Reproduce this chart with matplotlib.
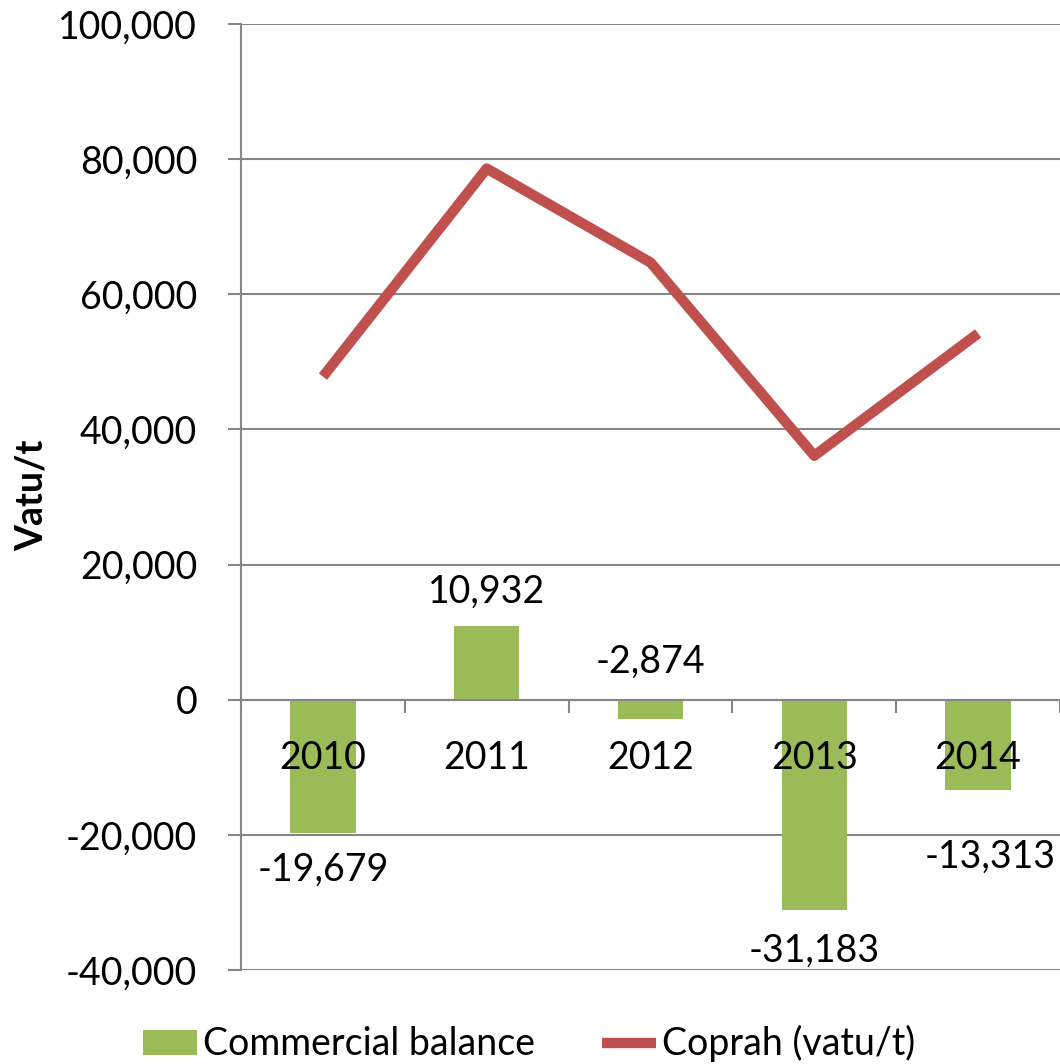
import numpy as np
import matplotlib.pyplot as plt
from matplotlib.ticker import FuncFormatter

plt.rcParams['font.family'] = ['Lato', 'DejaVu Sans']

# ---------------- DATA ----------------
years = ["2010", "2011", "2012", "2013", "2014"]
balance = [-19679, 10932, -2874, -31183, -13313]
coprah = [47800, 78600, 64700, 36100, 54200]

# label placement (px from bar end / zero line, + is up / right)
label_dy = [-37, 34, 38, -40, -67]
label_dx = [0, 0, 0, 0, 12]

GREEN = "#9BBB59"
RED = "#C0504D"
GREY = "#868686"
FS = 27

fig = plt.figure(figsize=(10.6, 10.64), dpi=100)
ax = fig.add_axes([0.2274, 0.0884, 0.7726, 0.8891])

x = np.arange(len(years))
bars = ax.bar(x, balance, width=0.4, color=GREEN, zorder=2,
              label="Commercial balance")
line, = ax.plot(x, coprah, color=RED, lw=7.5, solid_capstyle="butt",
                zorder=3, label="Coprah (vatu/t)")

for xi, v, dx, dy in zip(x, balance, label_dx, label_dy):
    y = v if dy < 0 else max(v, 0)
    ax.annotate(f"{v:,}", (xi, y), xytext=(dx * 0.72, dy * 0.72),
                textcoords="offset points", ha="center", va="center",
                fontsize=FS, zorder=6, annotation_clip=False)

ax.set_xlim(-0.5, 4.5)
ax.set_ylim(-40000, 100000)
ax.set_yticks(np.arange(-40000, 100001, 20000))
ax.yaxis.set_major_formatter(FuncFormatter(lambda v, p: f"{int(v):,}"))
ax.grid(axis="y", color=GREY, lw=1.5)
ax.set_axisbelow(True)
ax.xaxis.set_zorder(5)

for s in ["top", "right"]:
    ax.spines[s].set_visible(False)
ax.spines["left"].set_color(GREY)
ax.spines["left"].set_linewidth(1.5)
ax.spines["bottom"].set_position(("data", 0))
ax.spines["bottom"].set_color(GREY)
ax.spines["bottom"].set_linewidth(1.5)

ax.set_xticks(x)
ax.set_xticklabels(years)
ax.set_xticks(np.arange(-0.5, 5, 1), minor=True)
ax.tick_params(axis="x", which="major", length=0, pad=29, labelsize=FS)
ax.tick_params(axis="x", which="minor", length=9.5, width=1.5, color=GREY,
               direction="out")
ax.tick_params(axis="y", length=9.5, width=1.5, color=GREY, pad=22,
               labelsize=FS)

ax.set_ylabel("Vatu/t", fontsize=FS, fontweight="bold")
ax.yaxis.set_label_coords(-0.235, 0.502)

fig.legend(handles=[bars, line], loc="center", bbox_to_anchor=(0.499, 0.019),
           ncol=2, frameon=False, fontsize=FS, handlelength=1.45,
           handleheight=0.65, handletextpad=0.15, columnspacing=1.8,
           borderpad=0, borderaxespad=0)

fig.savefig("out.png", dpi=100)
